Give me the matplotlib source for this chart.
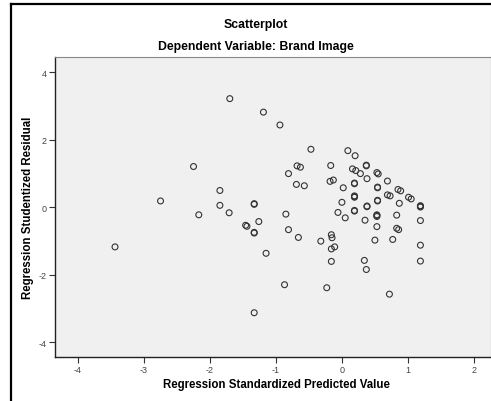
import numpy as np
import matplotlib
matplotlib.use('Agg')
import matplotlib.pyplot as plt
from matplotlib.lines import Line2D

plt.rcParams['font.family'] = ['Liberation Sans', 'DejaVu Sans']
plt.rcParams['axes.unicode_minus'] = False

# predicted value (x) and studentized residual (y)
predicted = [-1.70, -1.19, -0.94, -0.47, 0.09, -2.25, -0.68, -0.63, -0.17, -0.81,
             -0.18, -0.13, 0.02, -0.69, -0.57, -1.85, -2.75, -1.85, -1.33, -1.33,
             -2.17, -1.71, -0.85, 0.00, -0.06, 0.05, -1.46, -1.44, -1.26, -1.33,
             -1.33, -0.81, -0.66, -1.15, -0.32, -0.16, -0.15, -0.16, -0.11, -0.16,
             -0.87, -0.23, -1.33, -3.44,
             0.20, 0.16, 0.21, 0.28, 0.37, 0.37, 0.53, 0.55, 0.38, 0.69,
             0.19, 0.19, 0.54, 0.54, 0.85, 0.89, 0.69, 0.73, 1.01, 1.05,
             0.19, 0.19, 0.19, 0.54, 0.54, 0.87, 1.19, 1.19, 1.19,
             0.19, 0.19, 0.38, 0.38, 0.53, 0.53, 0.53, 0.35, 0.83, 1.19,
             0.53, 0.83, 0.86, 0.50, 0.77, 1.19, 0.34, 0.37, 1.19, 0.72]
residual = [3.22, 2.82, 2.44, 1.72, 1.68, 1.21, 1.23, 1.19, 1.24, 1.00,
            0.77, 0.81, 0.58, 0.68, 0.64, 0.50, 0.19, 0.06, 0.11, 0.09,
            -0.22, -0.16, -0.20, 0.15, -0.15, -0.31, -0.53, -0.56, -0.42, -0.74,
            -0.76, -0.66, -0.89, -1.36, -1.00, -0.81, -0.90, -1.23, -1.17, -1.60,
            -2.29, -2.38, -3.12, -1.17,
            1.53, 1.14, 1.09, 1.00, 1.25, 1.23, 1.03, 0.99, 0.85, 0.78,
            0.72, 0.70, 0.58, 0.60, 0.53, 0.49, 0.37, 0.34, 0.30, 0.25,
            0.32, 0.30, 0.34, 0.19, 0.21, 0.12, 0.03, 0.01, 0.05,
            -0.11, -0.09, 0.02, 0.04, -0.24, -0.22, -0.27, -0.38, -0.23, -0.39,
            -0.57, -0.62, -0.66, -0.97, -0.95, -1.12, -1.57, -1.84, -1.59, -2.57]

xticks = [-4, -3, -2, -1, 0, 1, 2]
yticks = [-4, -2, 0, 2, 4]

fig = plt.figure(figsize=(4.91, 4.02), dpi=100)
ax = fig.add_axes([0.112, 0.1095, 0.888, 0.746])
ax.set_facecolor('#f0f0f0')

ax.scatter(predicted, residual, s=18, facecolors='none', edgecolors='#333333',
           linewidths=0.8, zorder=3)

ax.set_xlim(-4.35, 2.26)
ax.set_ylim(-4.43, 4.45)
ax.set_xticks(xticks)
ax.set_yticks(yticks)
ax.tick_params(direction='out', length=4, width=0.8, colors='#333333',
               labelsize=6.5, labelcolor='#444444', pad=2)

for side in ['left', 'bottom']:
    ax.spines[side].set_color('#222222')
    ax.spines[side].set_linewidth(1.0)
for side in ['top', 'right']:
    ax.spines[side].set_color('#888888')
    ax.spines[side].set_linewidth(0.8)

# titles and labels
fig.text(0.521, 1 - 25 / 402, 'Scatterplot', ha='center', va='center',
         fontsize=8.8, fontweight='bold')
fig.text(0.521, 1 - 47 / 402, 'Dependent Variable: Brand Image', ha='center',
         va='center', fontsize=8.8, fontweight='bold')
fig.text(0.057, 1 - 208 / 402, 'Regression Studentized Residual', rotation=90,
         ha='center', va='center', fontsize=8.3, fontweight='bold')
fig.text(0.562, 1 - 385 / 402, 'Regression Standardized Predicted Value',
         ha='center', va='center', fontsize=8.3, fontweight='bold')

# outer frame
fig.add_artist(Line2D([11 / 491, 11 / 491], [0, 1 - 5 / 402], color='black',
                      linewidth=1.6, transform=fig.transFigure))
fig.add_artist(Line2D([11 / 491, 1], [1 - 5 / 402, 1 - 5 / 402], color='black',
                      linewidth=1.6, transform=fig.transFigure))

fig.savefig('out.png', dpi=100)
